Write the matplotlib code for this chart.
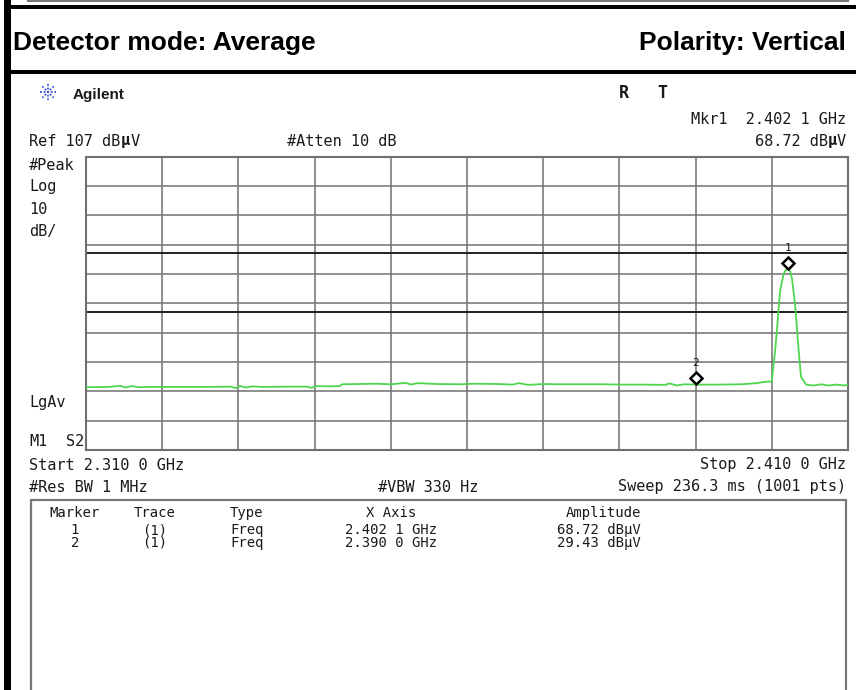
import numpy as np
import matplotlib.pyplot as plt
import matplotlib.transforms as mtransforms
from matplotlib.patches import Rectangle
from matplotlib.lines import Line2D

## the data
freq_ghz = [2.3100, 2.3130, 2.3145, 2.3152, 2.3160, 2.3170, 2.3180, 2.3220,
            2.3260, 2.3290, 2.3296, 2.3302, 2.3310, 2.3318, 2.3330, 2.3370,
            2.3390, 2.3396, 2.3402, 2.3420, 2.3433, 2.3436, 2.3460, 2.3480,
            2.3500, 2.3520, 2.3526, 2.3535, 2.3560, 2.3590, 2.3610, 2.3640,
            2.3660, 2.3668, 2.3680, 2.3700, 2.3720, 2.3750, 2.3780, 2.3800,
            2.3830, 2.3860, 2.3866, 2.3875, 2.3885, 2.3900, 2.3930, 2.3960,
            2.3980, 2.3990, 2.4000, 2.40015, 2.4004, 2.40068, 2.4009, 2.40111,
            2.40155, 2.4018, 2.4021, 2.4024, 2.40265, 2.40308, 2.40352, 2.40383,
            2.40417, 2.4045, 2.4055, 2.4065, 2.4075, 2.4085, 2.4095, 2.4100]
level_dbuv = [28.4, 28.5, 28.9, 28.3, 28.8, 28.4, 28.5, 28.5,
              28.5, 28.6, 28.1, 28.8, 28.3, 28.7, 28.5, 28.6,
              28.6, 28.2, 28.8, 28.7, 28.8, 29.4, 29.5, 29.6,
              29.4, 29.9, 29.3, 29.8, 29.5, 29.4, 29.6, 29.5,
              29.3, 29.8, 29.2, 29.5, 29.4, 29.4, 29.4, 29.3,
              29.3, 29.2, 29.7, 29.0, 29.4, 29.3, 29.3, 29.4,
              29.8, 30.2, 30.4, 34.3, 40.0, 48.0, 55.5, 61.6,
              67.0, 68.3, 68.72, 68.0, 65.5, 55.9, 41.1, 32.0,
              30.6, 29.3, 29.0, 29.4, 29.0, 29.3, 29.0, 29.4]

marker_ids = ['1', '2']
marker_freq = [2.4021, 2.3900]
marker_amp = [68.72, 29.43]
limit_lines = [74, 54]          # peak / average limits

ref_level = 107
db_per_div = 10
start_ghz, stop_ghz = 2.310, 2.410

W, H = 856, 690
fig = plt.figure(figsize=(W / 100, H / 100), dpi=100)

def fx(x):
    return x / W

def fy(y):
    return 1 - y / H

mono = 'DejaVu Sans Mono'
ink = '#1a1a1a'

# outer report frame
fig.add_artist(Rectangle((fx(4), 0), fx(7), 1, color='black', lw=0))
fig.add_artist(Rectangle((fx(4), fy(8.5)), 1, 3.5 / H, color='black', lw=0))
fig.add_artist(Rectangle((fx(4), fy(74)), 1, 4 / H, color='black', lw=0))
fig.add_artist(Line2D([fx(28), fx(848)], [fy(1), fy(1)], color='#777777', lw=1.5))

fig.text(fx(13), fy(50), 'Detector mode: Average', family='Liberation Sans',
         weight='bold', fontsize=19, va='baseline')
fig.text(fx(846), fy(50), 'Polarity: Vertical', family='Liberation Sans',
         weight='bold', fontsize=19, va='baseline', ha='right')

# Agilent logo
cx, cy = 48, 92
for a in np.arange(0, np.pi, np.pi / 4):
    dx, dy = 8 * np.cos(a), 8 * np.sin(a)
    fig.add_artist(Line2D([fx(cx - dx), fx(cx + dx)], [fy(cy - dy), fy(cy + dy)],
                          color='#3a4fd0', lw=1.3, ls=(0, (1, 1))))
fig.text(fx(73), fy(99), 'Agilent', family='Liberation Sans', weight='bold',
         fontsize=11, va='baseline', color=ink)
fig.text(fx(619), fy(98), 'R', family=mono, weight='bold', fontsize=12,
         va='baseline', color=ink)
fig.text(fx(657), fy(98), 'T', family=mono, weight='bold', fontsize=12,
         va='baseline', color=ink)

def scr(x, y, s, ha='left', size=11, weight='normal'):
    fig.text(fx(x), fy(y), s, family=mono, fontsize=size, ha=ha, va='center',
             color=ink, weight=weight)

cw = 0.602 * 11 * 100 / 72     # mono char width in px
scr(846, 119, 'Mkr1  2.402 1 GHz', ha='right')
scr(29, 141, 'Ref 107 dB')
scr(29 + 10 * cw, 141, 'µ', weight='bold')
scr(29 + 11 * cw, 141, 'V')
scr(287, 141, '#Atten 10 dB')
scr(846 - 2 * cw, 141, '68.72 dB', ha='right')
scr(846 - 2 * cw, 141, 'µ', weight='bold')
scr(846 - cw, 141, 'V')
scr(29, 166, '#Peak')
scr(29, 187, 'Log')
scr(29, 210, '10')
scr(29, 231, 'dB/')
scr(29, 403, 'LgAv')
scr(29, 441, 'M1')
scr(84, 441, 'S2', ha='right')
scr(29, 466, 'Start 2.310 0 GHz')
scr(846, 465, 'Stop 2.410 0 GHz', ha='right')
scr(29, 488, '#Res BW 1 MHz')
scr(378, 488, '#VBW 330 Hz')
scr(846, 487, 'Sweep 236.3 ms (1001 pts)', ha='right')

## the screen graticule
ax = fig.add_axes([fx(86), fy(450), (848 - 86) / W, (450 - 156.7) / H])
ax.plot(freq_ghz, level_dbuv, color='#4fd64f', lw=1.3, zorder=3)
for lv in limit_lines:
    ax.axhline(lv, color='#202020', lw=1.4, zorder=2)

up6 = mtransforms.offset_copy(ax.transData, fig=fig, x=0, y=6, units='dots')
up20 = mtransforms.offset_copy(ax.transData, fig=fig, x=0, y=21, units='dots')
for mid, f, a in zip(marker_ids, marker_freq, marker_amp):
    ax.plot(f, a, marker='D', ms=6, mfc='white', mec='black', mew=1.8,
            transform=up6, zorder=5, clip_on=False)
    ax.text(f, a, mid, transform=up20, ha='center', va='center',
            family=mono, fontsize=8, color=ink, zorder=5)

ax.set_xlim(start_ghz, stop_ghz)
ax.set_ylim(ref_level - 10 * db_per_div, ref_level)
ax.set_xticks(np.linspace(start_ghz, stop_ghz, 11))
ax.set_yticks(np.arange(ref_level - 10 * db_per_div, ref_level + 1, db_per_div))
ax.grid(True, color='#707070', lw=1.1)
ax.tick_params(length=0, labelbottom=False, labelleft=False)
for s in ax.spines.values():
    s.set_color('#707070')
    s.set_linewidth(1.5)

## marker table
fig.add_artist(Rectangle((fx(31), fy(700)), (846 - 31) / W, 200 / H,
                         fill=False, ec='#777777', lw=1.6))
tab_rows = [['Marker', 'Trace', 'Type', 'X Axis', 'Amplitude'],
            ['1', '(1)', 'Freq', '2.402 1 GHz', '68.72 dBµV'],
            ['2', '(1)', 'Freq', '2.390 0 GHz', '29.43 dBµV']]
row_y = [513, 530, 543]
for ry, row in zip(row_y, tab_rows):
    scr(75, ry, row[0], ha='center', size=10)
    scr(155, ry, row[1], ha='center', size=10)
    scr(230, ry, row[2], size=10)
    scr(391, ry, row[3], ha='center', size=10)
    scr(641, ry, row[4], ha='right', size=10)

plt.savefig('out.png', dpi=100)
